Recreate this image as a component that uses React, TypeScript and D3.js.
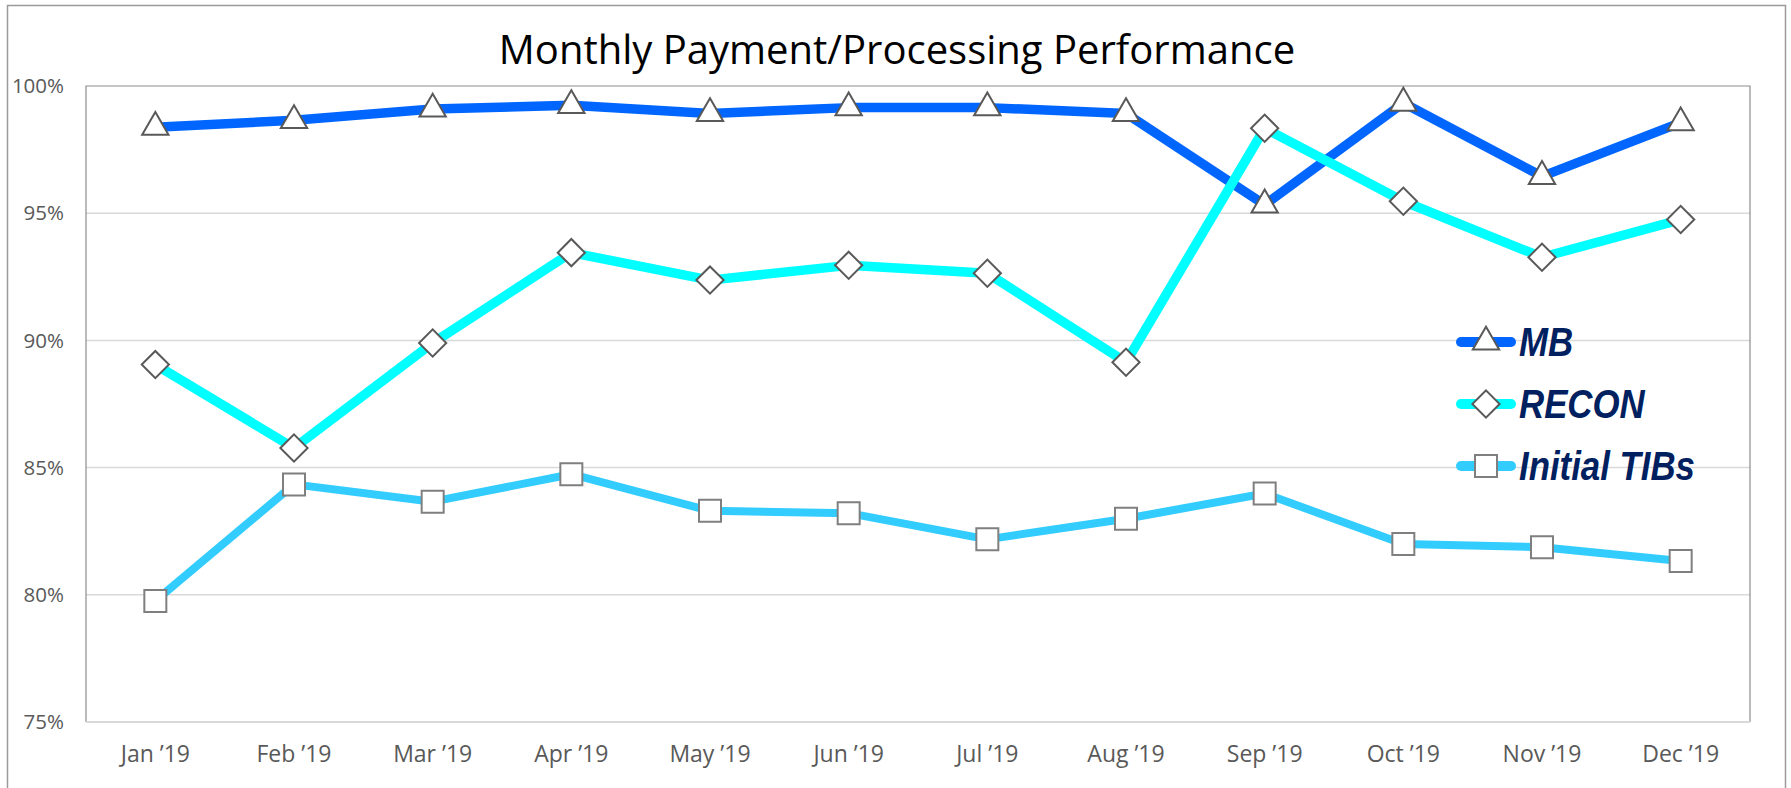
import React, { useRef, useEffect } from 'react';
import * as d3 from 'd3';

const months = ['Jan ’19', 'Feb ’19', 'Mar ’19', 'Apr ’19', 'May ’19', 'Jun ’19', 'Jul ’19', 'Aug ’19', 'Sep ’19', 'Oct ’19', 'Nov ’19', 'Dec ’19'];
const mbValues = [98.38, 98.65, 99.1, 99.24, 98.92, 99.15, 99.15, 98.92, 95.33, 99.33, 96.45, 98.56];
const reconValues = [89.05, 85.77, 89.9, 93.45, 92.37, 92.95, 92.64, 89.14, 98.34, 95.47, 93.27, 94.75];
const tibsValues = [79.76, 84.34, 83.66, 84.74, 83.3, 83.21, 82.18, 82.99, 83.98, 82.0, 81.87, 81.33];
const yTicks = [75, 80, 85, 90, 95, 100];

const WIDTH = 1791;
const HEIGHT = 788;

export default function App() {
  const svgRef = useRef<SVGSVGElement>(null);

  useEffect(() => {
    if (!svgRef.current) return;
    const svg = d3.select(svgRef.current);
    svg.selectAll('*').remove();

    const left = 86;
    const right = 1750;
    const top = 86;
    const bottom = 722;

    const x = d3.scaleBand<string>().domain(months).range([left, right]);
    const cx = (m: string) => (x(m) ?? 0) + x.bandwidth() / 2;
    const y = d3.scaleLinear().domain([75, 100]).range([bottom, top]);

    svg.append('rect').attr('width', WIDTH).attr('height', HEIGHT).attr('fill', '#fff');

    // outer chart border
    svg
      .append('rect')
      .attr('x', 7.5)
      .attr('y', 5.5)
      .attr('width', 1778)
      .attr('height', 820)
      .attr('fill', 'none')
      .attr('stroke', '#9a9a9a')
      .attr('stroke-width', 1.5);

    svg
      .append('text')
      .attr('x', 897)
      .attr('y', 64)
      .attr('text-anchor', 'middle')
      .attr('font-family', '"Open Sans", sans-serif')
      .attr('font-size', 40)
      .attr('fill', '#000')
      .text('Monthly Payment/Processing Performance');

    // gridlines
    svg
      .append('g')
      .selectAll('line')
      .data(yTicks.filter((t) => t !== 75 && t !== 100))
      .enter()
      .append('line')
      .attr('x1', left)
      .attr('x2', right)
      .attr('y1', (d) => y(d))
      .attr('y2', (d) => y(d))
      .attr('stroke', '#d9d9d9')
      .attr('stroke-width', 1.5);

    // plot border
    svg
      .append('path')
      .attr('d', `M${left},${bottom}V${top}H${right}V${bottom}`)
      .attr('fill', 'none')
      .attr('stroke', '#8c8c8c')
      .attr('stroke-width', 1.2);
    svg
      .append('line')
      .attr('x1', left)
      .attr('x2', right)
      .attr('y1', bottom)
      .attr('y2', bottom)
      .attr('stroke', '#d9d9d9')
      .attr('stroke-width', 2);

    // y labels
    svg
      .append('g')
      .selectAll('text')
      .data(yTicks)
      .enter()
      .append('text')
      .attr('x', 64)
      .attr('y', (d) => y(d))
      .attr('dy', '0.35em')
      .attr('text-anchor', 'end')
      .attr('font-family', '"Open Sans", sans-serif')
      .attr('font-size', 20.5)
      .attr('fill', '#595959')
      .text((d) => `${d}%`);

    // x labels
    svg
      .append('g')
      .selectAll('text')
      .data(months)
      .enter()
      .append('text')
      .attr('x', (d) => cx(d))
      .attr('y', 762)
      .attr('text-anchor', 'middle')
      .attr('font-family', '"Open Sans", sans-serif')
      .attr('font-size', 23)
      .attr('fill', '#595959')
      .text((d) => d);

    const series = [
      { name: 'MB', values: mbValues, color: '#0066ff', width: 9.5, symbol: d3.symbolTriangle, size: 300, rotate: 0 },
      { name: 'RECON', values: reconValues, color: '#00ffff', width: 9.5, symbol: d3.symbolSquare, size: 370, rotate: 45 },
      { name: 'Initial TIBs', values: tibsValues, color: '#33ccff', width: 8, symbol: d3.symbolSquare, size: 484, rotate: 0 },
    ];

    const line = d3
      .line<number>()
      .x((_, i) => cx(months[i]))
      .y((d) => y(d));

    series.forEach((s) => {
      svg
        .append('path')
        .datum(s.values)
        .attr('d', line)
        .attr('fill', 'none')
        .attr('stroke', s.color)
        .attr('stroke-width', s.width)
        .attr('stroke-linejoin', 'round');
    });

    series.forEach((s) => {
      const sym = d3.symbol().type(s.symbol).size(s.size);
      svg
        .append('g')
        .selectAll('path')
        .data(s.values)
        .enter()
        .append('path')
        .attr('d', sym)
        .attr('transform', (d, i) => `translate(${cx(months[i])},${y(d)}) rotate(${s.rotate})`)
        .attr('fill', '#fff')
        .attr('stroke', s.name === 'Initial TIBs' ? '#7f7f7f' : '#595959')
        .attr('stroke-width', 2);
    });

    // legend
    const legend = svg.append('g');
    series.forEach((s, i) => {
      const ly = 342 + i * 62;
      legend
        .append('line')
        .attr('x1', 1461)
        .attr('x2', 1511)
        .attr('y1', ly)
        .attr('y2', ly)
        .attr('stroke', s.color)
        .attr('stroke-width', 10)
        .attr('stroke-linecap', 'round');
      legend
        .append('path')
        .attr('d', d3.symbol().type(s.symbol).size(s.size)())
        .attr('transform', `translate(1486,${ly}) rotate(${s.rotate})`)
        .attr('fill', '#fff')
        .attr('stroke', s.name === 'Initial TIBs' ? '#7f7f7f' : '#595959')
        .attr('stroke-width', 2);
      legend
        .append('text')
        .attr('transform', `translate(1519,${ly}) scale(0.87,1)`)
        .attr('dy', '0.36em')
        .attr('font-family', '"Liberation Sans", Arial, sans-serif')
        .attr('font-weight', 'bold')
        .attr('font-style', 'italic')
        .attr('font-size', 40)
        .attr('fill', '#002060')
        .text(s.name);
    });
  }, []);

  return (
    <svg
      ref={svgRef}
      width={WIDTH}
      height={HEIGHT}
      style={{ position: 'absolute', left: 0, top: 0, display: 'block' }}
    />
  );
}
